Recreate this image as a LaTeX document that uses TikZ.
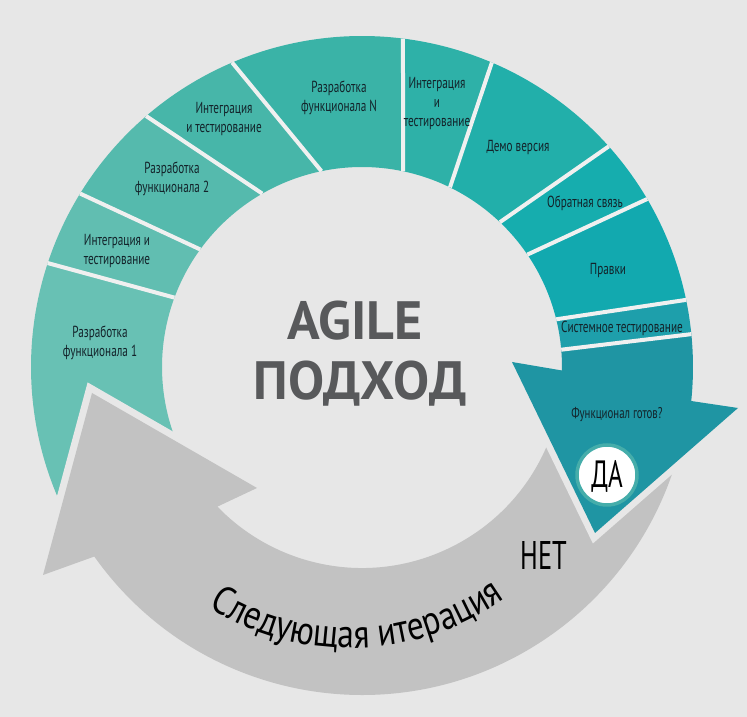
\documentclass[tikz,border=0pt]{standalone}
\usepackage{fontspec}
\setmainfont{PT Sans}
\newfontfamily\condf{PT Sans}[FakeStretch=0.7]
\newfontfamily\arcf{PT Sans}[FakeStretch=0.84]
\newfontfamily\narrf{PT Sans}[FakeStretch=0.66]
\usetikzlibrary{calc,decorations.text}
\definecolor{bgc}{HTML}{E7E7E7}
\definecolor{gapc}{HTML}{F0F0F0}
\definecolor{grayc}{HTML}{C2C2C2}
\definecolor{labc}{HTML}{13232A}
\definecolor{titlec}{HTML}{58595B}
\definecolor{ringc}{HTML}{45ADAA}
\definecolor{cA}{HTML}{68C1B4}
\definecolor{cB}{HTML}{61BEB1}
\definecolor{cC}{HTML}{55BAAD}
\definecolor{cD}{HTML}{47B6A9}
\definecolor{cE}{HTML}{3AB3A7}
\definecolor{cF}{HTML}{2EB1A8}
\definecolor{cG}{HTML}{22AFAA}
\definecolor{cH}{HTML}{16ADAE}
\definecolor{cI}{HTML}{12A9AF}
\definecolor{cJ}{HTML}{1E9FAB}
\definecolor{cK}{HTML}{1F95A3}
\newcommand{\tealseg}[5]{\fill[#1] ($(C)+(#2:\Ro)$) arc[start angle=#2, end angle=#3, radius=\Ro] -- ($(C)+(#5:\Ri)$) arc[start angle=#5, end angle=#4, radius=\Ri] -- cycle;}
\newcommand{\gapln}[2]{\draw[gapline] ($(C)+(#1:\Ro)$) -- ($(C)+(#2:\Ri)$);}
\tikzset{
  gapline/.style={gapc, line width=4pt},
  seglabel/.style={align=center, text=labc, font=\condf\fontsize{16}{19}\selectfont, inner sep=0pt},
  cutstroke/.style={bgc, line width=14pt, line join=miter}
}
\begin{document}
\begin{tikzpicture}[x=1pt,y=1pt]
\useasboundingbox (0,0) rectangle (747,717);
\fill[bgc] (0,0) rectangle (747,717);
\coordinate (C) at (362,350);
\def\Ro{331pt}
\def\Ri{200pt}
% teal segments
\tealseg{cA}{206}{161.7}{200}{159.7}
\tealseg{cB}{161.7}{148.4}{159.7}{144.0}
\tealseg{cC}{148.4}{130.7}{144.0}{119.9}
\tealseg{cD}{130.7}{113.1}{119.9}{101.7}
\tealseg{cE}{113.1}{82.9}{101.7}{78.1}
\tealseg{cF}{82.9}{66.9}{78.1}{63.9}
\tealseg{cG}{66.9}{41.8}{63.9}{46.4}
\tealseg{cH}{41.8}{30.5}{46.4}{34.2}
\tealseg{cI}{30.5}{11.7}{34.2}{13.8}
\tealseg{cJ}{11.7}{5.7}{13.8}{4.96}
\gapln{161.7}{159.7}
\gapln{148.4}{144.0}
\gapln{130.7}{119.9}
\gapln{113.1}{101.7}
\gapln{82.9}{78.1}
\gapln{66.9}{63.9}
\gapln{41.8}{46.4}
\gapln{30.5}{34.2}
\gapln{11.7}{13.8}
% gray return arrow
\coordinate (gtip) at (92,324);
\coordinate (glb) at (43,142);
\coordinate (grb) at (257,229);
\draw[cutstroke] (glb) -- (gtip) -- (grb);
\fill[grayc] (gtip) -- (glb) -- ($(C)+(215.3:328pt)$) arc[start angle=215.3, end angle=345, radius=328pt]
  -- (596,197) -- ($(C)+(341:201pt)$) arc[start angle=341, end angle=224, radius=201pt] -- (grb) -- cycle;
% teal arrow head
\coordinate (tlb) at (512,355);
\coordinate (ttip) at (595,184);
\coordinate (trb) at (738,309);
\draw[cutstroke, line width=13pt] (tlb) -- (ttip) -- (trb);
\fill[cK] ($(C)+(5.7:\Ro)$) arc[start angle=5.7, end angle=-5.9, radius=\Ro] -- (trb) -- (ttip) -- (tlb)
  -- ($(C)+(-1:\Ri)$) arc[start angle=-1, end angle=4.96, radius=\Ri] -- cycle;
\gapln{5.7}{4.96}
% labels
\node[seglabel] (l1) at (100,374) {Разработка\\функционала 1};
\node[seglabel] (l2) at (117,466) {Интеграция и\\тестирование};
\node[seglabel] (l3) at (172,538) {Разработка\\функционала 2};
\node[seglabel] (l4) at (224,598) {Интеграция\\и тестирование};
\node[seglabel] (l5) at (339,619) {Разработка\\функционала N};
\node[seglabel] (l6) at (437,613) {Интеграция\\и\\тестирование};
\node[seglabel] (l7) at (518,569) {Демо версия};
\node[seglabel] (l8) at (585,514) {Обратная связь};
\node[seglabel] (l9) at (608,446) {Правки};
\node[seglabel] (l10) at (622,389) {Системное тестирование};
\node[seglabel, font=\condf\fontsize{15.5}{17}\selectfont] (l11) at (617,302) {Функционал готов?};
% yes circle
\node[circle, fill=white, draw=ringc, line width=3.5pt, minimum size=60pt, inner sep=0pt] (da) at (607,242) {};
\node[anchor=base, inner sep=0pt, font=\narrf\fontsize{38}{38}\selectfont, text=black] (datext) at (607,229) {ДА};
\node[anchor=base, inner sep=0pt, font=\narrf\fontsize{40}{40}\selectfont, text=black] (net) at (544,147) {НЕТ};
% title
\node[anchor=base, inner sep=0pt, font=\bfseries\fontsize{54}{54}\selectfont, text=titlec] (agile) at (355,377) {AGILE};
\node[anchor=base, inner sep=0pt, font=\bfseries\fontsize{54}{54}\selectfont, text=titlec] (podhod) at (360,317) {ПОДХОД};
% curved text
\coordinate (TC) at (350,337);
\path[decorate, decoration={text along path, text={|\arcf\fontsize{40}{40}\selectfont|Следующая итерация}, text align=center, text color=black}]
  ($(TC)+(236:268pt)$) arc[start angle=236, end angle=307.5, radius=268pt];
\end{tikzpicture}
\end{document}
